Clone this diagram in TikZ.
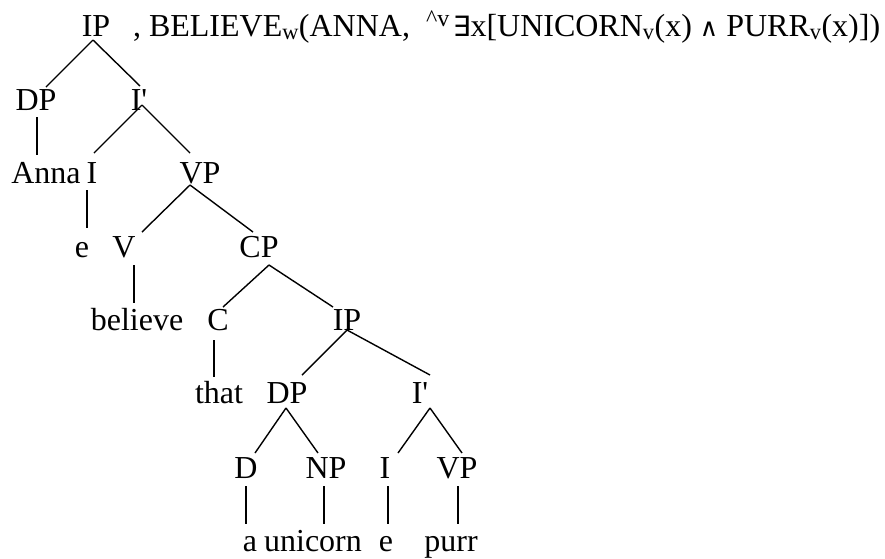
\documentclass[tikz,border=0pt]{standalone}
\usepackage{fontspec}
\setmainfont{Liberation Serif}
\newfontfamily\symfont{DejaVu Sans}
\usetikzlibrary{calc}
\tikzset{
  lab/.style={inner sep=0pt, outer sep=0pt, anchor=base, font=\fontsize{32}{38}\selectfont},
  diag/.style={line width=1.4pt},
  vert/.style={line width=2.2pt},
}
\newcommand{\conn}[7]{\draw[#1] ($(#2.base)+(#3)$) -- ($(#5.base)+(#6)$);}
\begin{document}
\begin{tikzpicture}[x=1pt,y=-1pt]
\useasboundingbox (0,0) rectangle (885,558);
\node[lab] (IP0) at (96,36) {IP};
\node[lab, anchor=base west] (F) at (133,36) {, BELIEVE\textsubscript{w}(ANNA,\ \ \textsuperscript{\fontsize{24}{24}\selectfont\textasciicircum v}\kern3pt{\symfont\fontsize{28}{30}\selectfont ∃}x[UNICORN\textsubscript{v}(x) {\symfont\fontsize{25}{30}\selectfont ∧} PURR\textsubscript{v}(x)])};
\node[lab] (DP1) at (36,110) {DP};
\node[lab] (Ib1) at (139,110) {I\textquotesingle};
\node[lab] (Anna) at (46,183) {Anna};
\node[lab] (I1) at (92,183) {I};
\node[lab] (VP1) at (200,183) {VP};
\node[lab] (e1) at (82,257) {e};
\node[lab] (V1) at (124,257) {V};
\node[lab] (CP) at (259,257) {CP};
\node[lab] (believe) at (137,330) {believe};
\node[lab] (C) at (218,330) {C};
\node[lab] (IP2) at (347,330) {IP};
\node[lab] (that) at (219,403) {that};
\node[lab] (DP2) at (287,403) {DP};
\node[lab] (Ib2) at (420,403) {I\textquotesingle};
\node[lab] (D) at (246,478) {D};
\node[lab] (NP) at (326,478) {NP};
\node[lab] (I2) at (385,478) {I};
\node[lab] (VP2) at (457,478) {VP};
\node[lab] (a) at (250,551) {a};
\node[lab] (unicorn) at (313,551) {unicorn};
\node[lab] (e2) at (386,551) {e};
\node[lab] (purr) at (451,551) {purr};

\conn{diag}{IP0}{-3,4}{}{DP1}{10,-23}{}
\conn{diag}{IP0}{-3,4}{}{Ib1}{1,-24}{}
\conn{vert}{DP1}{1,7}{}{Anna}{-9,-28}{}
\conn{diag}{Ib1}{3,-5}{}{I1}{2,-30}{}
\conn{diag}{Ib1}{3,-5}{}{VP1}{-10,-30}{}
\conn{vert}{I1}{-5,7}{}{e1}{5,-29}{}
\conn{diag}{VP1}{-10,2}{}{V1}{18,-25}{}
\conn{diag}{VP1}{-10,2}{}{CP}{-6,-25}{}
\conn{vert}{V1}{10,8}{}{believe}{-3,-27}{}
\conn{diag}{CP}{10,8}{}{C}{5,-23}{}
\conn{diag}{CP}{10,8}{}{IP2}{-14,-23}{}
\conn{vert}{C}{-4,10}{}{that}{-5,-26}{}
\conn{diag}{IP2}{0,0}{}{DP2}{15,-28}{}
\conn{diag}{IP2}{0,0}{}{Ib2}{10,-28}{}
\conn{diag}{DP2}{-1,5}{}{D}{9,-25}{}
\conn{diag}{DP2}{-1,5}{}{NP}{-8,-25}{}
\conn{diag}{Ib2}{10,5}{}{I2}{13,-25}{}
\conn{diag}{Ib2}{10,5}{}{VP2}{5,-25}{}
\conn{vert}{D}{0,8}{}{a}{-4,-27}{}
\conn{vert}{NP}{-2,8}{}{unicorn}{11,-27}{}
\conn{vert}{I2}{3,8}{}{e2}{2,-27}{}
\conn{vert}{VP2}{1,8}{}{purr}{7,-27}{}
\end{tikzpicture}
\end{document}
